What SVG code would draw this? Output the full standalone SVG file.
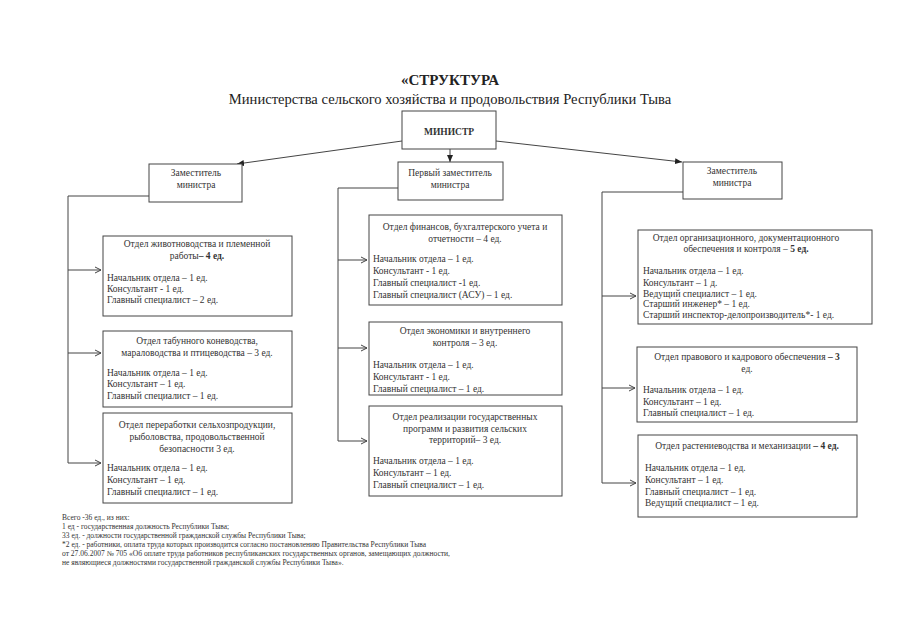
<svg xmlns="http://www.w3.org/2000/svg" width="905" height="640" viewBox="0 0 905 640">
<style>
.bx{fill:#fff;stroke:#444;stroke-width:1}
.t{font-family:"Liberation Serif","Times New Roman",serif;font-size:9.5px;fill:#333}
.c{text-anchor:middle}
.b{font-weight:bold}
.ln{fill:none;stroke:#444;stroke-width:1}
.fn{font-family:"Liberation Serif","Times New Roman",serif;font-size:7.5px;fill:#333}
</style>
<defs>
<marker id="solid" markerWidth="8" markerHeight="8" refX="7" refY="4" orient="auto" markerUnits="userSpaceOnUse">
<path d="M0,1 L7,4 L0,7 Z" fill="#222"/>
</marker>
<marker id="open" markerWidth="8" markerHeight="8" refX="7" refY="4" orient="auto" markerUnits="userSpaceOnUse">
<path d="M1,1 L7,4 L1,7" fill="none" stroke="#444" stroke-width="1"/>
</marker>
</defs>
<rect width="905" height="640" fill="#fff"/>
<text x="450" y="85" text-anchor="middle" font-family="Liberation Serif,serif" font-size="15" font-weight="bold" fill="#222">«СТРУКТУРА</text>
<text x="450" y="104" text-anchor="middle" font-family="Liberation Serif,serif" font-size="14.6" fill="#222">Министерства сельского хозяйства и продовольствия Республики Тыва</text>

<g id="connectors">
<line class="ln" x1="402" y1="141" x2="237" y2="164" marker-end="url(#solid)"/>
<line class="ln" x1="450" y1="149" x2="450" y2="162" marker-end="url(#solid)"/>
<line class="ln" x1="496" y1="141" x2="682" y2="162" marker-end="url(#solid)"/>
<polyline class="ln" points="149,196 68,196 68,463"/>
<line class="ln" x1="68" y1="270" x2="101" y2="270" marker-end="url(#open)"/>
<line class="ln" x1="68" y1="353" x2="101" y2="353" marker-end="url(#open)"/>
<line class="ln" x1="68" y1="463" x2="101" y2="463" marker-end="url(#open)"/>
<polyline class="ln" points="398,188 338,188 338,441"/>
<line class="ln" x1="338" y1="260" x2="367" y2="260" marker-end="url(#open)"/>
<line class="ln" x1="338" y1="348" x2="367" y2="348" marker-end="url(#open)"/>
<line class="ln" x1="338" y1="441" x2="367" y2="441" marker-end="url(#open)"/>
<polyline class="ln" points="683,192 602,192 602,483"/>
<line class="ln" x1="602" y1="296" x2="636" y2="296" marker-end="url(#open)"/>
<line class="ln" x1="602" y1="388" x2="635" y2="388" marker-end="url(#open)"/>
<line class="ln" x1="602" y1="483" x2="636" y2="483" marker-end="url(#open)"/>
</g>

<g id="minister">
<rect class="bx" x="402" y="111" width="94" height="38"/>
<text class="t c b" x="449" y="135" font-size="8.5">МИНИСТР</text>
</g>

<g id="deputy-left">
<rect class="bx" x="149" y="164" width="93" height="38"/>
<text class="t c" x="196" y="176" font-size="9">Заместитель</text>
<text class="t c" x="196" y="188" font-size="9">министра</text>
</g>
<g id="deputy-first">
<rect class="bx" x="398" y="162" width="105" height="38"/>
<text class="t c" x="450" y="176" font-size="9">Первый заместитель</text>
<text class="t c" x="450" y="188" font-size="9">министра</text>
</g>
<g id="deputy-right">
<rect class="bx" x="683" y="162" width="99" height="37"/>
<text class="t c" x="732" y="174" font-size="9">Заместитель</text>
<text class="t c" x="732" y="186" font-size="9">министра</text>
</g>

<g id="dept-l1">
<rect class="bx" x="103" y="236" width="189" height="80"/>
<text class="t c" x="197" y="247">Отдел животноводства и племенной</text>
<text class="t c" x="197" y="259">работы<tspan class="b">– 4 ед.</tspan></text>
<text class="t" x="107" y="281">Начальник отдела – 1 ед.</text>
<text class="t" x="107" y="292">Консультант - 1 ед.</text>
<text class="t" x="107" y="303">Главный специалист – 2 ед.</text>
</g>
<g id="dept-l2">
<rect class="bx" x="103" y="331" width="189" height="76"/>
<text class="t c" x="197" y="344">Отдел табунного коневодства,</text>
<text class="t c" x="197" y="356">мараловодства и птицеводства – 3 ед.</text>
<text class="t" x="107" y="376">Начальник отдела – 1 ед.</text>
<text class="t" x="107" y="387">Консультант – 1 ед.</text>
<text class="t" x="107" y="399">Главный специалист – 1 ед.</text>
</g>
<g id="dept-l3">
<rect class="bx" x="103" y="413" width="189" height="90"/>
<text class="t c" x="197" y="428">Отдел переработки сельхозпродукции,</text>
<text class="t c" x="197" y="440">рыболовства, продовольственной</text>
<text class="t c" x="197" y="452">безопасности    3 ед.</text>
<text class="t" x="107" y="471">Начальник отдела – 1 ед.</text>
<text class="t" x="107" y="483">Консультант – 1 ед.</text>
<text class="t" x="107" y="495">Главный специалист – 1 ед.</text>
</g>

<g id="dept-m1">
<rect class="bx" x="369" y="215" width="193" height="90"/>
<text class="t c" x="465" y="230">Отдел финансов, бухгалтерского учета и</text>
<text class="t c" x="465" y="242">отчетности – 4 ед.</text>
<text class="t" x="373" y="262">Начальник отдела – 1 ед.</text>
<text class="t" x="373" y="274">Консультант  - 1 ед.</text>
<text class="t" x="373" y="286">Главный специалист -1 ед.</text>
<text class="t" x="373" y="298">Главный специалист (АСУ) – 1 ед.</text>
</g>
<g id="dept-m2">
<rect class="bx" x="369" y="322" width="193" height="73"/>
<text class="t c" x="465" y="334">Отдел экономики и внутреннего</text>
<text class="t c" x="465" y="346">контроля – 3 ед.</text>
<text class="t" x="373" y="368">Начальник отдела – 1 ед.</text>
<text class="t" x="373" y="380">Консультант  - 1 ед.</text>
<text class="t" x="373" y="392">Главный специалист – 1 ед.</text>
</g>
<g id="dept-m3">
<rect class="bx" x="369" y="406" width="193" height="90"/>
<text class="t c" x="465" y="420">Отдел реализации государственных</text>
<text class="t c" x="465" y="432">программ и развития сельских</text>
<text class="t c" x="465" y="443">территорий– 3 ед.</text>
<text class="t" x="373" y="464">Начальник отдела – 1 ед.</text>
<text class="t" x="373" y="476">Консультант – 1 ед.</text>
<text class="t" x="373" y="488">Главный специалист – 1 ед.</text>
</g>

<g id="dept-r1">
<rect class="bx" x="638" y="230" width="234" height="94"/>
<text class="t c" x="746" y="241">Отдел организационного, документационного</text>
<text class="t c" x="746" y="252">обеспечения и контроля – <tspan class="b">5 ед.</tspan></text>
<text class="t" x="643" y="274">Начальник отдела – 1 ед.</text>
<text class="t" x="643" y="286">Консультант – 1 д.</text>
<text class="t" x="643" y="297">Ведущий специалист  – 1 ед.</text>
<text class="t" x="643" y="307">Старший инженер* – 1 ед.</text>
<text class="t" x="643" y="318">Старший инспектор-делопроизводитель*- 1 ед.</text>
</g>
<g id="dept-r2">
<rect class="bx" x="637" y="347" width="220" height="75"/>
<text class="t c" x="747" y="360">Отдел правового и кадрового обеспечения <tspan class="b">– 3</tspan></text>
<text class="t c" x="747" y="372">ед.</text>
<text class="t" x="643" y="393">Начальник отдела – 1 ед.</text>
<text class="t" x="643" y="405">Консультант – 1 ед.</text>
<text class="t" x="643" y="416">Главный специалист – 1 ед.</text>
</g>
<g id="dept-r3">
<rect class="bx" x="638" y="435" width="219" height="82"/>
<text class="t c" x="747" y="449">Отдел растениеводства и механизации <tspan class="b">– 4 ед.</tspan></text>
<text class="t" x="645" y="471">Начальник отдела – 1 ед.</text>
<text class="t" x="645" y="483">Консультант – 1 ед.</text>
<text class="t" x="645" y="495">Главный специалист – 1 ед.</text>
<text class="t" x="645" y="506">Ведущий специалист – 1 ед.</text>
</g>

<g id="footnotes">
<text class="fn" x="62" y="520">Всего -36 ед., из них:</text>
<text class="fn" x="62" y="529">1 ед - государственная должность Республики Тыва;</text>
<text class="fn" x="62" y="538">33 ед. - должности государственной гражданской службы Республики Тыва;</text>
<text class="fn" x="62" y="547">*2 ед. - работники, оплата труда которых производится согласно постановлению Правительства Республики Тыва</text>
<text class="fn" x="62" y="556" textLength="388" lengthAdjust="spacingAndGlyphs">от 27.06.2007 № 705 «Об оплате труда работников республиканских государственных органов, замещающих должности,</text>
<text class="fn" x="62" y="565">не являющиеся должностями государственной гражданской службы Республики Тыва».</text>
</g>
</svg>
